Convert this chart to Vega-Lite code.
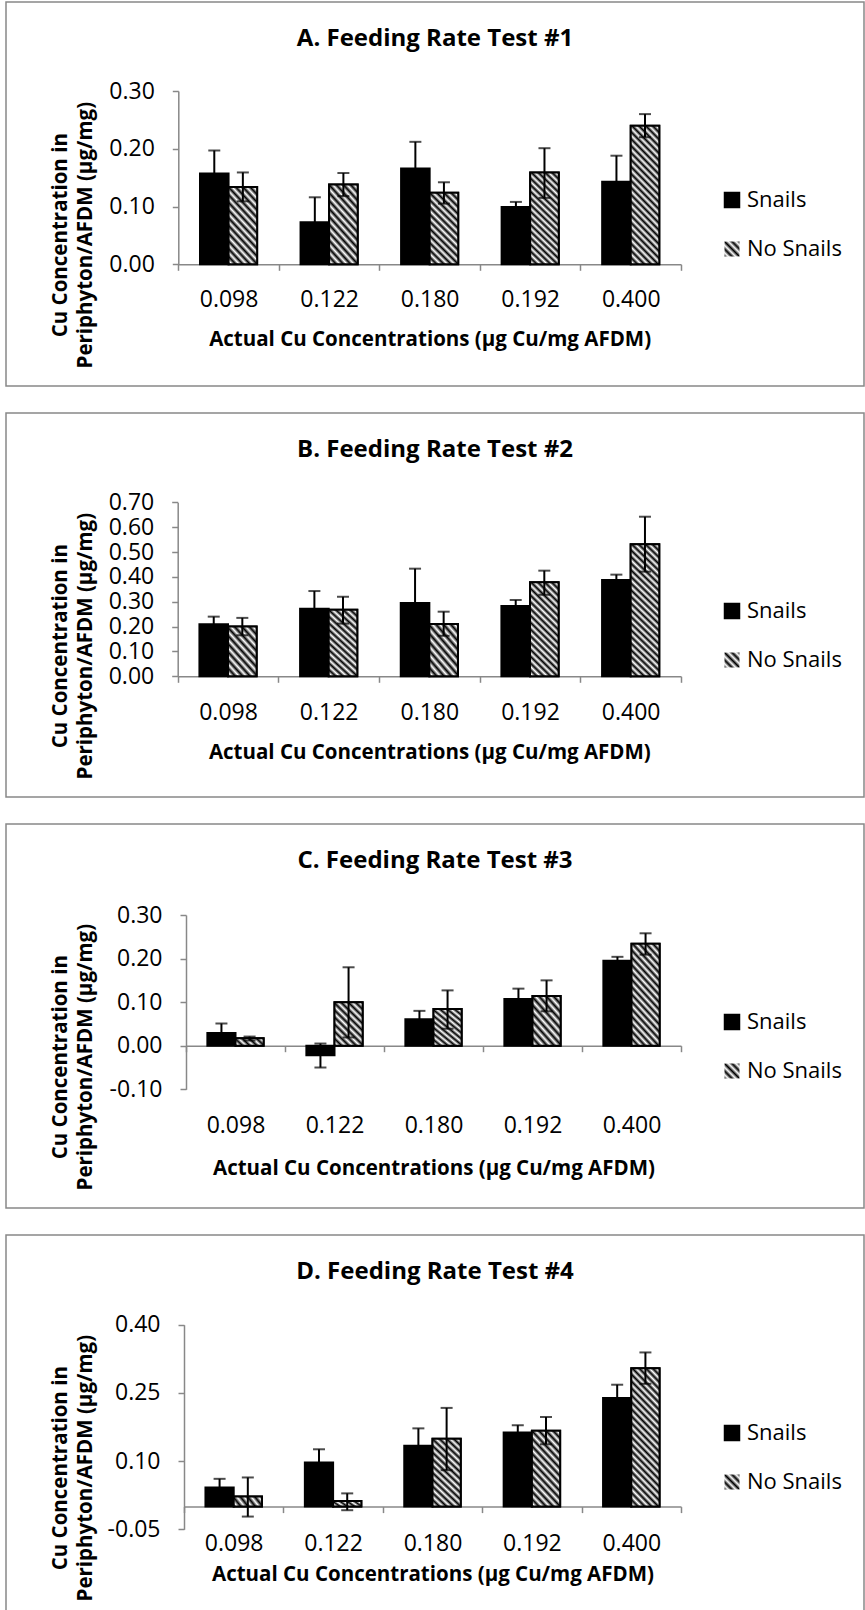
{
  "$schema": "https://vega.github.io/schema/vega-lite/v6.json",
  "autosize": {"type": "pad"},
  "padding": {"left": 5, "top": 1, "right": 0, "bottom": 0},
  "background": "#ffffff",
  "datasets": {
    "d": [
      {"panel": "A", "conc": "0.098", "group": "Snails", "value": 0.157, "lo": 0.117, "hi": 0.197},
      {"panel": "A", "conc": "0.098", "group": "No Snails", "value": 0.134, "lo": 0.109, "hi": 0.159},
      {"panel": "A", "conc": "0.122", "group": "Snails", "value": 0.073, "lo": 0.030, "hi": 0.116},
      {"panel": "A", "conc": "0.122", "group": "No Snails", "value": 0.138, "lo": 0.118, "hi": 0.158},
      {"panel": "A", "conc": "0.180", "group": "Snails", "value": 0.166, "lo": 0.120, "hi": 0.212},
      {"panel": "A", "conc": "0.180", "group": "No Snails", "value": 0.124, "lo": 0.105, "hi": 0.142},
      {"panel": "A", "conc": "0.192", "group": "Snails", "value": 0.099, "lo": 0.090, "hi": 0.108},
      {"panel": "A", "conc": "0.192", "group": "No Snails", "value": 0.159, "lo": 0.115, "hi": 0.201},
      {"panel": "A", "conc": "0.400", "group": "Snails", "value": 0.143, "lo": 0.098, "hi": 0.188},
      {"panel": "A", "conc": "0.400", "group": "No Snails", "value": 0.240, "lo": 0.220, "hi": 0.260},
      {"panel": "B", "conc": "0.098", "group": "Snails", "value": 0.209, "lo": 0.178, "hi": 0.240},
      {"panel": "B", "conc": "0.098", "group": "No Snails", "value": 0.200, "lo": 0.165, "hi": 0.235},
      {"panel": "B", "conc": "0.122", "group": "Snails", "value": 0.272, "lo": 0.201, "hi": 0.343},
      {"panel": "B", "conc": "0.122", "group": "No Snails", "value": 0.268, "lo": 0.212, "hi": 0.320},
      {"panel": "B", "conc": "0.180", "group": "Snails", "value": 0.295, "lo": 0.157, "hi": 0.433},
      {"panel": "B", "conc": "0.180", "group": "No Snails", "value": 0.210, "lo": 0.163, "hi": 0.260},
      {"panel": "B", "conc": "0.192", "group": "Snails", "value": 0.283, "lo": 0.259, "hi": 0.307},
      {"panel": "B", "conc": "0.192", "group": "No Snails", "value": 0.378, "lo": 0.328, "hi": 0.425},
      {"panel": "B", "conc": "0.400", "group": "Snails", "value": 0.387, "lo": 0.366, "hi": 0.409},
      {"panel": "B", "conc": "0.400", "group": "No Snails", "value": 0.531, "lo": 0.421, "hi": 0.642},
      {"panel": "C", "conc": "0.098", "group": "Snails", "value": 0.029, "lo": 0.007, "hi": 0.051},
      {"panel": "C", "conc": "0.098", "group": "No Snails", "value": 0.017, "lo": 0.012, "hi": 0.021},
      {"panel": "C", "conc": "0.122", "group": "Snails", "value": -0.022, "lo": -0.050, "hi": 0.005},
      {"panel": "C", "conc": "0.122", "group": "No Snails", "value": 0.100, "lo": 0.019, "hi": 0.180},
      {"panel": "C", "conc": "0.180", "group": "Snails", "value": 0.061, "lo": 0.042, "hi": 0.080},
      {"panel": "C", "conc": "0.180", "group": "No Snails", "value": 0.084, "lo": 0.039, "hi": 0.127},
      {"panel": "C", "conc": "0.192", "group": "Snails", "value": 0.107, "lo": 0.083, "hi": 0.131},
      {"panel": "C", "conc": "0.192", "group": "No Snails", "value": 0.114, "lo": 0.079, "hi": 0.150},
      {"panel": "C", "conc": "0.400", "group": "Snails", "value": 0.195, "lo": 0.186, "hi": 0.204},
      {"panel": "C", "conc": "0.400", "group": "No Snails", "value": 0.234, "lo": 0.209, "hi": 0.258},
      {"panel": "D", "conc": "0.098", "group": "Snails", "value": 0.042, "lo": 0.023, "hi": 0.061},
      {"panel": "D", "conc": "0.098", "group": "No Snails", "value": 0.022, "lo": -0.022, "hi": 0.064},
      {"panel": "D", "conc": "0.122", "group": "Snails", "value": 0.097, "lo": 0.069, "hi": 0.126},
      {"panel": "D", "conc": "0.122", "group": "No Snails", "value": 0.012, "lo": -0.008, "hi": 0.029},
      {"panel": "D", "conc": "0.180", "group": "Snails", "value": 0.134, "lo": 0.096, "hi": 0.172},
      {"panel": "D", "conc": "0.180", "group": "No Snails", "value": 0.149, "lo": 0.080, "hi": 0.217},
      {"panel": "D", "conc": "0.192", "group": "Snails", "value": 0.163, "lo": 0.146, "hi": 0.179},
      {"panel": "D", "conc": "0.192", "group": "No Snails", "value": 0.167, "lo": 0.137, "hi": 0.197},
      {"panel": "D", "conc": "0.400", "group": "Snails", "value": 0.239, "lo": 0.210, "hi": 0.268},
      {"panel": "D", "conc": "0.400", "group": "No Snails", "value": 0.304, "lo": 0.270, "hi": 0.339}
    ]
  },
  "data": {"name": "d"},
  "spacing": 25,
  "resolve": {
    "scale": {"x": "independent", "y": "independent", "xOffset": "independent", "fill": "independent", "opacity": "independent"},
    "axis": {"x": "independent", "y": "independent"},
    "legend": {"fill": "independent", "opacity": "independent"}
  },
  "vconcat": [
    {
      "width": 858, "height": 384,
      "title": {"text": "A. Feeding Rate Test #1"},
      "transform": [{"filter": "datum.panel === 'A'"}],
      "encoding": {
        "x": {"field": "conc", "type": "nominal", "scale": {"range": [172.3, 675], "paddingInner": 0, "paddingOuter": 0},
              "axis": {"title": "Actual Cu Concentrations (µg Cu/mg AFDM)", "offset": -121.7, "labelPadding": 18.6, "titleY": 75.4}},
        "xOffset": {"field": "group", "type": "nominal", "scale": {"domain": ["Snails", "No Snails"], "paddingInner": 0, "paddingOuter": 0.76}}
      },
      "layer": [
        {"mark": {"type": "bar", "stroke": "#000", "strokeWidth": 2},
         "encoding": {
           "y": {"field": "value", "type": "quantitative", "scale": {"domain": [0, 0.3], "range": [262.3, 89], "nice": false, "zero": false},
                 "axis": {"title": ["Cu Concentration in", "Periphyton/AFDM (µg/mg)"], "values": [0, 0.1, 0.2, 0.3], "offset": -172.3, "titleX": -118.3, "titleY": 232.7}},
           "fill": {"field": "group", "type": "nominal", "scale": {"domain": ["Snails", "No Snails"], "range": ["#000000", "#ffffff"]},
                    "legend": {"title": null, "values": ["Snails"], "legendX": 715, "legendY": 187}}
         }},
        {"transform": [{"filter": "datum.group === 'No Snails' && indexof(['0.098','0.122','0.180'], datum.conc) >= 0"}],
         "mark": {"type": "bar", "style": "h72", "stroke": "#000", "strokeWidth": 2},
         "encoding": {"y": {"field": "value", "type": "quantitative"}}},
        {"transform": [{"filter": "datum.group === 'No Snails' && datum.conc === '0.192'"}],
         "mark": {"type": "bar", "style": "h95", "stroke": "#000", "strokeWidth": 2},
         "encoding": {"y": {"field": "value", "type": "quantitative"}}},
        {"transform": [{"filter": "datum.group === 'No Snails' && datum.conc === '0.400'"}],
         "mark": {"type": "bar", "style": "h136", "stroke": "#000", "strokeWidth": 2},
         "encoding": {"y": {"field": "value", "type": "quantitative"}}},
        {"mark": {"type": "rule", "color": "#000", "strokeWidth": 2},
         "encoding": {"y": {"field": "lo", "type": "quantitative"}, "y2": {"field": "hi"}}},
        {"mark": {"type": "tick", "orient": "horizontal", "size": 12, "thickness": 2, "color": "#000"},
         "encoding": {"y": {"field": "lo", "type": "quantitative"}}},
        {"mark": {"type": "tick", "orient": "horizontal", "size": 12, "thickness": 2, "color": "#000"},
         "encoding": {"y": {"field": "hi", "type": "quantitative"}}},
        {"transform": [{"filter": "false"}],
         "mark": {"type": "bar", "style": "hleg", "stroke": "#000", "strokeWidth": 1.5},
         "encoding": {"y": {"field": "value", "type": "quantitative"},
                      "opacity": {"field": "group", "type": "nominal", "scale": {"domain": ["No Snails"], "range": [1, 1]}, "legend": {"title": null, "legendX": 715, "legendY": 236, "symbolStrokeColor": "#000", "symbolStrokeWidth": 1.5}}}}
      ]
    },
    {
      "width": 858, "height": 384,
      "title": {"text": "B. Feeding Rate Test #2"},
      "transform": [{"filter": "datum.panel === 'B'"}],
      "encoding": {
        "x": {"field": "conc", "type": "nominal", "scale": {"range": [171.7, 675], "paddingInner": 0, "paddingOuter": 0},
              "axis": {"title": "Actual Cu Concentrations (µg Cu/mg AFDM)", "offset": -120.7, "labelPadding": 19, "titleY": 76.2}},
        "xOffset": {"field": "group", "type": "nominal", "scale": {"domain": ["Snails", "No Snails"], "paddingInner": 0, "paddingOuter": 0.76}}
      },
      "layer": [
        {"mark": {"type": "bar", "stroke": "#000", "strokeWidth": 2},
         "encoding": {
           "y": {"field": "value", "type": "quantitative", "scale": {"domain": [0, 0.7], "range": [263.3, 89.3], "nice": false, "zero": false},
                 "axis": {"title": ["Cu Concentration in", "Periphyton/AFDM (µg/mg)"], "values": [0, 0.1, 0.2, 0.3, 0.4, 0.5, 0.6, 0.7], "offset": -171.7, "titleX": -117.7, "titleY": 232.7}},
           "fill": {"field": "group", "type": "nominal", "scale": {"domain": ["Snails", "No Snails"], "range": ["#000000", "#ffffff"]},
                    "legend": {"title": null, "values": ["Snails"], "legendX": 715, "legendY": 187}}
         }},
        {"transform": [{"filter": "datum.group === 'No Snails' && indexof(['0.098','0.180'], datum.conc) >= 0"}],
         "mark": {"type": "bar", "style": "h45", "stroke": "#000", "strokeWidth": 2},
         "encoding": {"y": {"field": "value", "type": "quantitative"}}},
        {"transform": [{"filter": "datum.group === 'No Snails' && datum.conc === '0.122'"}],
         "mark": {"type": "bar", "style": "h72", "stroke": "#000", "strokeWidth": 2},
         "encoding": {"y": {"field": "value", "type": "quantitative"}}},
        {"transform": [{"filter": "datum.group === 'No Snails' && datum.conc === '0.192'"}],
         "mark": {"type": "bar", "style": "h95", "stroke": "#000", "strokeWidth": 2},
         "encoding": {"y": {"field": "value", "type": "quantitative"}}},
        {"transform": [{"filter": "datum.group === 'No Snails' && datum.conc === '0.400'"}],
         "mark": {"type": "bar", "style": "h136", "stroke": "#000", "strokeWidth": 2},
         "encoding": {"y": {"field": "value", "type": "quantitative"}}},
        {"mark": {"type": "rule", "color": "#000", "strokeWidth": 2},
         "encoding": {"y": {"field": "lo", "type": "quantitative"}, "y2": {"field": "hi"}}},
        {"mark": {"type": "tick", "orient": "horizontal", "size": 12, "thickness": 2, "color": "#000"},
         "encoding": {"y": {"field": "lo", "type": "quantitative"}}},
        {"mark": {"type": "tick", "orient": "horizontal", "size": 12, "thickness": 2, "color": "#000"},
         "encoding": {"y": {"field": "hi", "type": "quantitative"}}},
        {"transform": [{"filter": "false"}],
         "mark": {"type": "bar", "style": "hleg", "stroke": "#000", "strokeWidth": 1.5},
         "encoding": {"y": {"field": "value", "type": "quantitative"},
                      "opacity": {"field": "group", "type": "nominal", "scale": {"domain": ["No Snails"], "range": [1, 1]}, "legend": {"title": null, "legendX": 715, "legendY": 236, "symbolStrokeColor": "#000", "symbolStrokeWidth": 1.5}}}}
      ]
    },
    {
      "width": 858, "height": 384,
      "title": {"text": "C. Feeding Rate Test #3"},
      "transform": [{"filter": "datum.panel === 'C'"}],
      "encoding": {
        "x": {"field": "conc", "type": "nominal", "scale": {"range": [180, 675], "paddingInner": 0, "paddingOuter": 0},
              "axis": {"title": "Actual Cu Concentrations (µg Cu/mg AFDM)", "offset": -162.3, "labelPadding": 62.6, "titleY": 123.2}},
        "xOffset": {"field": "group", "type": "nominal", "scale": {"domain": ["Snails", "No Snails"], "paddingInner": 0, "paddingOuter": 0.76}}
      },
      "layer": [
        {"mark": {"type": "bar", "stroke": "#000", "strokeWidth": 2},
         "encoding": {
           "y": {"field": "value", "type": "quantitative", "scale": {"domain": [-0.1, 0.3], "range": [265.3, 91], "nice": false, "zero": false},
                 "axis": {"title": ["Cu Concentration in", "Periphyton/AFDM (µg/mg)"], "values": [-0.1, 0, 0.1, 0.2, 0.3], "offset": -180, "titleX": -126, "titleY": 232.7}},
           "fill": {"field": "group", "type": "nominal", "scale": {"domain": ["Snails", "No Snails"], "range": ["#000000", "#ffffff"]},
                    "legend": {"title": null, "values": ["Snails"], "legendX": 715, "legendY": 187}}
         }},
        {"transform": [{"filter": "datum.group === 'No Snails' && datum.conc === '0.098'"}],
         "mark": {"type": "bar", "style": "h8", "stroke": "#000", "strokeWidth": 2},
         "encoding": {"y": {"field": "value", "type": "quantitative"}}},
        {"transform": [{"filter": "datum.group === 'No Snails' && indexof(['0.122','0.180','0.192'], datum.conc) >= 0"}],
         "mark": {"type": "bar", "style": "h45", "stroke": "#000", "strokeWidth": 2},
         "encoding": {"y": {"field": "value", "type": "quantitative"}}},
        {"transform": [{"filter": "datum.group === 'No Snails' && datum.conc === '0.400'"}],
         "mark": {"type": "bar", "style": "h95", "stroke": "#000", "strokeWidth": 2},
         "encoding": {"y": {"field": "value", "type": "quantitative"}}},
        {"mark": {"type": "rule", "color": "#000", "strokeWidth": 2},
         "encoding": {"y": {"field": "lo", "type": "quantitative"}, "y2": {"field": "hi"}}},
        {"mark": {"type": "tick", "orient": "horizontal", "size": 12, "thickness": 2, "color": "#000"},
         "encoding": {"y": {"field": "lo", "type": "quantitative"}}},
        {"mark": {"type": "tick", "orient": "horizontal", "size": 12, "thickness": 2, "color": "#000"},
         "encoding": {"y": {"field": "hi", "type": "quantitative"}}},
        {"transform": [{"filter": "false"}],
         "mark": {"type": "bar", "style": "hleg", "stroke": "#000", "strokeWidth": 1.5},
         "encoding": {"y": {"field": "value", "type": "quantitative"},
                      "opacity": {"field": "group", "type": "nominal", "scale": {"domain": ["No Snails"], "range": [1, 1]}, "legend": {"title": null, "legendX": 715, "legendY": 236, "symbolStrokeColor": "#000", "symbolStrokeWidth": 1.5}}}}
      ]
    },
    {
      "width": 858, "height": 381,
      "title": {"text": "D. Feeding Rate Test #4"},
      "transform": [{"filter": "datum.panel === 'D'"}],
      "encoding": {
        "x": {"field": "conc", "type": "nominal", "scale": {"range": [178, 675], "paddingInner": 0, "paddingOuter": 0},
              "axis": {"title": "Actual Cu Concentrations (µg Cu/mg AFDM)", "offset": -109.4, "labelPadding": 19.4, "titleY": 68.3}},
        "xOffset": {"field": "group", "type": "nominal", "scale": {"domain": ["Snails", "No Snails"], "paddingInner": 0, "paddingOuter": 0.76}}
      },
      "layer": [
        {"mark": {"type": "bar", "stroke": "#000", "strokeWidth": 2},
         "encoding": {
           "y": {"field": "value", "type": "quantitative", "scale": {"domain": [-0.05, 0.4], "range": [294.3, 89.7], "nice": false, "zero": false},
                 "axis": {"title": ["Cu Concentration in", "Periphyton/AFDM (µg/mg)"], "values": [-0.05, 0.1, 0.25, 0.4], "offset": -178, "titleX": -124, "titleY": 232.7}},
           "fill": {"field": "group", "type": "nominal", "scale": {"domain": ["Snails", "No Snails"], "range": ["#000000", "#ffffff"]},
                    "legend": {"title": null, "values": ["Snails"], "legendX": 715, "legendY": 187}}
         }},
        {"transform": [{"filter": "datum.group === 'No Snails' && indexof(['0.098','0.122'], datum.conc) >= 0"}],
         "mark": {"type": "bar", "style": "h8", "stroke": "#000", "strokeWidth": 2},
         "encoding": {"y": {"field": "value", "type": "quantitative"}}},
        {"transform": [{"filter": "datum.group === 'No Snails' && indexof(['0.180','0.192'], datum.conc) >= 0"}],
         "mark": {"type": "bar", "style": "h72", "stroke": "#000", "strokeWidth": 2},
         "encoding": {"y": {"field": "value", "type": "quantitative"}}},
        {"transform": [{"filter": "datum.group === 'No Snails' && datum.conc === '0.400'"}],
         "mark": {"type": "bar", "style": "h136", "stroke": "#000", "strokeWidth": 2},
         "encoding": {"y": {"field": "value", "type": "quantitative"}}},
        {"mark": {"type": "rule", "color": "#000", "strokeWidth": 2},
         "encoding": {"y": {"field": "lo", "type": "quantitative"}, "y2": {"field": "hi"}}},
        {"mark": {"type": "tick", "orient": "horizontal", "size": 12, "thickness": 2, "color": "#000"},
         "encoding": {"y": {"field": "lo", "type": "quantitative"}}},
        {"mark": {"type": "tick", "orient": "horizontal", "size": 12, "thickness": 2, "color": "#000"},
         "encoding": {"y": {"field": "hi", "type": "quantitative"}}},
        {"transform": [{"filter": "false"}],
         "mark": {"type": "bar", "style": "hleg", "stroke": "#000", "strokeWidth": 1.5},
         "encoding": {"y": {"field": "value", "type": "quantitative"},
                      "opacity": {"field": "group", "type": "nominal", "scale": {"domain": ["No Snails"], "range": [1, 1]}, "legend": {"title": null, "legendX": 715, "legendY": 236, "symbolStrokeColor": "#000", "symbolStrokeWidth": 1.5}}}}
      ]
    }
  ],
  "config": {
    "font": "Open Sans",
    "view": {"stroke": "#888888", "strokeWidth": 1.5},
    "title": {"anchor": "middle", "frame": "group", "offset": -49, "baseline": "alphabetic", "font": "Open Sans", "fontSize": 24, "fontWeight": "bold", "color": "#000000"},
    "axis": {"domainColor": "#888888", "tickColor": "#888888", "domainWidth": 1.5, "tickWidth": 1.5, "tickSize": 6, "labelColor": "#000000", "titleColor": "#000000", "labelFont": "Open Sans", "labelFontSize": 23, "titleFont": "Open Sans", "titleFontWeight": "bold", "grid": false},
    "axisX": {"tickBand": "extent", "labelAngle": 0, "titleBaseline": "middle", "titleFontSize": 20.5},
    "axisY": {"labelPadding": 18, "titleBaseline": "middle", "titleAlign": "center", "titleAngle": 270, "titleFontSize": 20.5, "titleLineHeight": 25, "labelExpr": "(datum.value < 0 ? '-' : '') + format(abs(datum.value), '.2f')"},
    "legend": {"orient": "none", "symbolType": "square", "symbolSize": 225, "labelFont": "Open Sans", "labelFontSize": 22, "labelColor": "#000000", "labelOffset": 4, "symbolStrokeColor": "#000000", "symbolStrokeWidth": 1.5, "padding": 0},
    "style": {
      "hleg": {"color": {"gradient": "linear", "x1": 0, "y1": 1, "x2": 1, "y2": 0, "stops": [{"offset": 0, "color": "#000"}, {"offset": 0.125, "color": "#fff"}, {"offset": 0.25, "color": "#000"}, {"offset": 0.375, "color": "#fff"}, {"offset": 0.5, "color": "#000"}, {"offset": 0.625, "color": "#fff"}, {"offset": 0.75, "color": "#000"}, {"offset": 0.875, "color": "#fff"}, {"offset": 1, "color": "#000"}]}},
      "h8": {"color": {"gradient": "linear", "x1": 0, "y1": 1, "x2": 1.187, "y2": 0.667, "stops": [{"offset": 0, "color": "#000"}, {"offset": 0.1, "color": "#fff"}, {"offset": 0.2, "color": "#000"}, {"offset": 0.3, "color": "#fff"}, {"offset": 0.4, "color": "#000"}, {"offset": 0.5, "color": "#fff"}, {"offset": 0.6, "color": "#000"}, {"offset": 0.7, "color": "#fff"}, {"offset": 0.8, "color": "#000"}, {"offset": 0.9, "color": "#fff"}, {"offset": 1, "color": "#000"}]}},
      "h45": {"color": {"gradient": "linear", "x1": 0, "y1": 1, "x2": 0.738, "y2": -0.166, "stops": [{"offset": 0, "color": "#000"}, {"offset": 0.05, "color": "#fff"}, {"offset": 0.1, "color": "#000"}, {"offset": 0.15, "color": "#fff"}, {"offset": 0.2, "color": "#000"}, {"offset": 0.25, "color": "#fff"}, {"offset": 0.3, "color": "#000"}, {"offset": 0.35, "color": "#fff"}, {"offset": 0.4, "color": "#000"}, {"offset": 0.45, "color": "#fff"}, {"offset": 0.5, "color": "#000"}, {"offset": 0.55, "color": "#fff"}, {"offset": 0.6, "color": "#000"}, {"offset": 0.65, "color": "#fff"}, {"offset": 0.7, "color": "#000"}, {"offset": 0.75, "color": "#fff"}, {"offset": 0.8, "color": "#000"}, {"offset": 0.85, "color": "#fff"}, {"offset": 0.9, "color": "#000"}, {"offset": 0.95, "color": "#fff"}, {"offset": 1, "color": "#000"}]}},
      "h72": {"color": {"gradient": "linear", "x1": 0, "y1": 1, "x2": 0.478, "y2": -0.207, "stops": [{"offset": 0, "color": "#000"}, {"offset": 0.0357, "color": "#fff"}, {"offset": 0.0714, "color": "#000"}, {"offset": 0.1071, "color": "#fff"}, {"offset": 0.1429, "color": "#000"}, {"offset": 0.1786, "color": "#fff"}, {"offset": 0.2143, "color": "#000"}, {"offset": 0.25, "color": "#fff"}, {"offset": 0.2857, "color": "#000"}, {"offset": 0.3214, "color": "#fff"}, {"offset": 0.3571, "color": "#000"}, {"offset": 0.3929, "color": "#fff"}, {"offset": 0.4286, "color": "#000"}, {"offset": 0.4643, "color": "#fff"}, {"offset": 0.5, "color": "#000"}, {"offset": 0.5357, "color": "#fff"}, {"offset": 0.5714, "color": "#000"}, {"offset": 0.6071, "color": "#fff"}, {"offset": 0.6429, "color": "#000"}, {"offset": 0.6786, "color": "#fff"}, {"offset": 0.7143, "color": "#000"}, {"offset": 0.75, "color": "#fff"}, {"offset": 0.7857, "color": "#000"}, {"offset": 0.8214, "color": "#fff"}, {"offset": 0.8571, "color": "#000"}, {"offset": 0.8929, "color": "#fff"}, {"offset": 0.9286, "color": "#000"}, {"offset": 0.9643, "color": "#fff"}, {"offset": 1, "color": "#000"}]}},
      "h95": {"color": {"gradient": "linear", "x1": 0, "y1": 1, "x2": 0.358, "y2": -0.193, "stops": [{"offset": 0, "color": "#000"}, {"offset": 0.0278, "color": "#fff"}, {"offset": 0.0556, "color": "#000"}, {"offset": 0.0833, "color": "#fff"}, {"offset": 0.1111, "color": "#000"}, {"offset": 0.1389, "color": "#fff"}, {"offset": 0.1667, "color": "#000"}, {"offset": 0.1944, "color": "#fff"}, {"offset": 0.2222, "color": "#000"}, {"offset": 0.25, "color": "#fff"}, {"offset": 0.2778, "color": "#000"}, {"offset": 0.3056, "color": "#fff"}, {"offset": 0.3333, "color": "#000"}, {"offset": 0.3611, "color": "#fff"}, {"offset": 0.3889, "color": "#000"}, {"offset": 0.4167, "color": "#fff"}, {"offset": 0.4444, "color": "#000"}, {"offset": 0.4722, "color": "#fff"}, {"offset": 0.5, "color": "#000"}, {"offset": 0.5278, "color": "#fff"}, {"offset": 0.5556, "color": "#000"}, {"offset": 0.5833, "color": "#fff"}, {"offset": 0.6111, "color": "#000"}, {"offset": 0.6389, "color": "#fff"}, {"offset": 0.6667, "color": "#000"}, {"offset": 0.6944, "color": "#fff"}, {"offset": 0.7222, "color": "#000"}, {"offset": 0.75, "color": "#fff"}, {"offset": 0.7778, "color": "#000"}, {"offset": 0.8056, "color": "#fff"}, {"offset": 0.8333, "color": "#000"}, {"offset": 0.8611, "color": "#fff"}, {"offset": 0.8889, "color": "#000"}, {"offset": 0.9167, "color": "#fff"}, {"offset": 0.9444, "color": "#000"}, {"offset": 0.9722, "color": "#fff"}, {"offset": 1, "color": "#000"}]}},
      "h136": {"color": {"gradient": "linear", "x1": 0, "y1": 1, "x2": 0.243, "y2": -0.159, "stops": [{"offset": 0, "color": "#000"}, {"offset": 0.0208, "color": "#fff"}, {"offset": 0.0417, "color": "#000"}, {"offset": 0.0625, "color": "#fff"}, {"offset": 0.0833, "color": "#000"}, {"offset": 0.1042, "color": "#fff"}, {"offset": 0.125, "color": "#000"}, {"offset": 0.1458, "color": "#fff"}, {"offset": 0.1667, "color": "#000"}, {"offset": 0.1875, "color": "#fff"}, {"offset": 0.2083, "color": "#000"}, {"offset": 0.2292, "color": "#fff"}, {"offset": 0.25, "color": "#000"}, {"offset": 0.2708, "color": "#fff"}, {"offset": 0.2917, "color": "#000"}, {"offset": 0.3125, "color": "#fff"}, {"offset": 0.3333, "color": "#000"}, {"offset": 0.3542, "color": "#fff"}, {"offset": 0.375, "color": "#000"}, {"offset": 0.3958, "color": "#fff"}, {"offset": 0.4167, "color": "#000"}, {"offset": 0.4375, "color": "#fff"}, {"offset": 0.4583, "color": "#000"}, {"offset": 0.4792, "color": "#fff"}, {"offset": 0.5, "color": "#000"}, {"offset": 0.5208, "color": "#fff"}, {"offset": 0.5417, "color": "#000"}, {"offset": 0.5625, "color": "#fff"}, {"offset": 0.5833, "color": "#000"}, {"offset": 0.6042, "color": "#fff"}, {"offset": 0.625, "color": "#000"}, {"offset": 0.6458, "color": "#fff"}, {"offset": 0.6667, "color": "#000"}, {"offset": 0.6875, "color": "#fff"}, {"offset": 0.7083, "color": "#000"}, {"offset": 0.7292, "color": "#fff"}, {"offset": 0.75, "color": "#000"}, {"offset": 0.7708, "color": "#fff"}, {"offset": 0.7917, "color": "#000"}, {"offset": 0.8125, "color": "#fff"}, {"offset": 0.8333, "color": "#000"}, {"offset": 0.8542, "color": "#fff"}, {"offset": 0.875, "color": "#000"}, {"offset": 0.8958, "color": "#fff"}, {"offset": 0.9167, "color": "#000"}, {"offset": 0.9375, "color": "#fff"}, {"offset": 0.9583, "color": "#000"}, {"offset": 0.9792, "color": "#fff"}, {"offset": 1, "color": "#000"}]}}
    }
  }
}
